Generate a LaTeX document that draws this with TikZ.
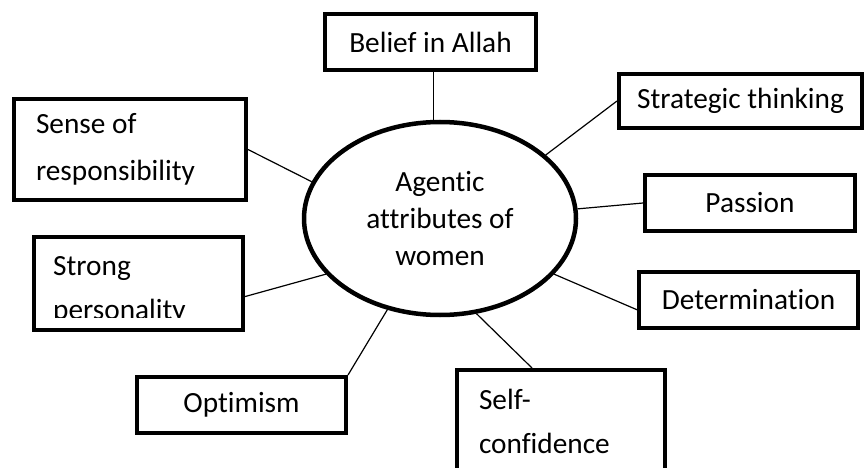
\documentclass[tikz,border=0pt]{standalone}
\usepackage{fontspec}
\setmainfont{Carlito}[Ligatures=NoCommon]
\usetikzlibrary{shapes.geometric, calc}

\begin{document}
\begin{tikzpicture}[x=1pt, y=-1pt,
    every node/.style={font=\fontsize{29.3}{44}\selectfont},
    attr/.style={draw, line width=4pt, inner sep=0pt, minimum height=56},
    link/.style={line width=1.2pt}]
    \useasboundingbox (0,0) rectangle (865,468);
    \clip (0,0) rectangle (865,468);

    \node[draw, ellipse, line width=4.5pt, inner sep=0pt, minimum width=272, minimum height=193,
      align=center, font=\fontsize{29.3}{37}\selectfont] (core) at (440,218.5) {Agentic\\attributes of\\women};

    \node[attr, minimum width=211] (belief) at (430.5,42) {Belief in Allah};
    \node[attr, minimum height=101, text width=188, inner xsep=22, align=flush left,
      font=\fontsize{29.3}{47}\selectfont] (sense) at (130,149.5) {Sense of\\responsibility};
    \node[attr, minimum width=243, minimum height=54] (strat) at (740.5,101) {Strategic thinking};
    \node[attr, minimum width=210] (passion) at (750,203) {Passion};
    \node[attr, minimum width=219] (determ) at (748.5,300) {Determination};
    \node[attr, minimum height=102, text width=164, inner xsep=22, align=flush left] (selfc) at (561,421) {Self-\\confidence};
    \node[attr, minimum width=209] (optim) at (241.5,405) {Optimism};
    \node[attr, minimum width=209, minimum height=93] (strong) at (138.5,283.5) {};
    % text of this box is cut off in the box
    \begin{scope}
      \clip (strong.north west) rectangle ($(strong.east)+(0,34)$);
      \node[text width=165, inner sep=0pt, align=flush left, anchor=west] (strongtext) at ($(strong.west)+(21,6.5)$) {Strong\\personality};
    \end{scope}

    \draw[link] (core.94) -- (core.94 |- belief.south);
    \draw[link] (core.164) -- (sense.east);
    \draw[link] (core.31) -- (strat.west);
    \draw[link] (core.4) -- (passion.west);
    \draw[link] (core.334) -- (determ.185);
    \draw[link] (core.291) -- ($(selfc.north)+(-29,0)$);
    \draw[link] (core.240) -- (optim.north east);
    \draw[link] (core.206) -- (strong.353);
\end{tikzpicture}
\end{document}
